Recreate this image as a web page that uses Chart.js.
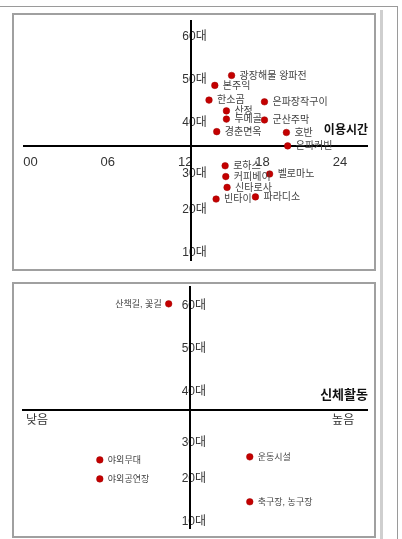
<!DOCTYPE html>
<html lang="ko">
<head>
<meta charset="utf-8">
<title>이용시간 · 신체활동</title>
<script src="https://cdn.jsdelivr.net/npm/chart.js@4.4.1/dist/chart.umd.min.js"></script>
<style>
    html, body { margin: 0; padding: 0; background: #fff; }
    body { width: 402px; height: 539px; position: relative; overflow: hidden; }
    .frame-top { position: absolute; left: 0; top: 6px; width: 398px; height: 1px; background: #9a9a9a; }
    .frame-right { position: absolute; left: 397px; top: 6px; width: 1px; height: 533px; background: #9a9a9a; }
    .frame-bar { position: absolute; left: 380px; top: 10px; width: 3px; height: 529px; background: #cfcfcf; }
    .panel { position: absolute; left: 12px; width: 364px; box-sizing: border-box; border: 2px solid #a0a0a0; }
    #panelTime { top: 13px; height: 258px; }
    #panelActivity { top: 282px; height: 256px; }
    canvas { position: absolute; left: 14px; z-index: 1; }
    #timeChart { top: 9px; }
    #activityChart { top: 275px; }
</style>
</head>
<body>
<div class="frame-top"></div>
<div class="frame-right"></div>
<div class="frame-bar"></div>
<div class="panel" id="panelTime"></div>
<div class="panel" id="panelActivity"></div>
<canvas id="timeChart" width="360" height="264"></canvas>
<canvas id="activityChart" width="360" height="265"></canvas>

<script>
// age axis (shared)
const ageTicks = [10, 20, 30, 40, 50, 60];
const ageLabels = ['10대', '20대', '30대', '40대', '50대', '60대'];

// top panel: time of use vs age
const hourTicks = [0, 6, 12, 18, 24];
const hourLabels = ['00', '06', '12', '18', '24'];
const timePlaces = ['광장해물 왕파전', '본주익', '한소곰', '은파장작구이', '산정', '두메골', '군산주막', '경춘면옥',
    '호반', '은파커빈', '로하스', '커피베이', '벨로마노', '신타로사', '빈타이', '파라디소'];
const timeHours = [15.6, 14.3, 13.85, 18.15, 15.2, 15.2, 18.15, 14.45, 19.85, 19.95, 15.1, 15.15, 18.55, 15.25, 14.4, 17.45];
const timeAges = [51.0, 48.7, 45.3, 44.9, 42.8, 40.9, 40.7, 38.0, 37.8, 34.7, 30.1, 27.6, 28.2, 25.1, 22.4, 22.9];

// bottom panel: physical activity vs age
const activityTicks = [0, 10];
const activityLabels = ['낮음', '높음'];
const activityPlaces = ['산책길, 꽃길', '야외무대', '야외공연장', '운동시설', '축구장, 농구장'];
const activityLevels = [4.3, 2.05, 2.05, 6.95, 6.95];
const activityAges = [60.4, 24.3, 19.9, 25.0, 14.6];

const FONT = '"Liberation Sans", "Noto Sans CJK KR", sans-serif';
Chart.defaults.font.family = FONT;
Chart.defaults.color = '#333';

// draws the place names next to the dots and the axis title
const pointLabels = {
    id: 'pointLabels',
    afterDatasetsDraw(chart, args, opts) {
        const { ctx, chartArea } = chart;
        const meta = chart.getDatasetMeta(0);
        const names = chart.data.labels;
        ctx.save();
        ctx.font = `${opts.size}px ${FONT}`;
        ctx.fillStyle = '#444';
        ctx.textBaseline = 'middle';
        meta.data.forEach((pt, i) => {
            const left = (opts.leftSide || []).includes(names[i]);
            ctx.textAlign = left ? 'right' : 'left';
            ctx.fillText(names[i], left ? pt.x - 7 : pt.x + 8, pt.y + 0.5);
        });
        // axis title, just above the horizontal axis on the right
        const axisY = chart.scales.y.getPixelForValue(chart.options.scales.x.position.y);
        ctx.font = `bold ${opts.titleSize}px ${FONT}`;
        ctx.fillStyle = '#111';
        ctx.textAlign = 'right';
        ctx.fillText(opts.title, chartArea.right + 1, axisY - 15);
        ctx.restore();
    }
};

function fixedTicks(values) {
    return scale => { scale.ticks = values.map(v => ({ value: v })); };
}

function makeChart(canvasId, cfg) {
    const noGrid = { display: true, drawOnChartArea: false, drawTicks: false };
    return new Chart(document.getElementById(canvasId), {
        type: 'scatter',
        data: {
            labels: cfg.names,
            datasets: [{
                data: cfg.xs.map((x, i) => ({ x: x, y: cfg.ys[i] })),
                backgroundColor: '#c40000',
                borderColor: '#a00000',
                borderWidth: 0.5,
                pointRadius: 3.3
            }]
        },
        options: {
            responsive: false,
            animation: false,
            layout: { padding: cfg.padding },
            plugins: {
                legend: { display: false },
                tooltip: { enabled: false },
                pointLabels: { size: cfg.labelSize, titleSize: cfg.titleSize, title: cfg.title, leftSide: cfg.leftSide }
            },
            scales: {
                x: {
                    type: 'linear',
                    min: cfg.xMin,
                    max: cfg.xMax,
                    position: { y: cfg.xAxisAt },
                    afterBuildTicks: fixedTicks(cfg.xTicks),
                    grid: noGrid,
                    border: { display: true, color: '#000', width: 2 },
                    ticks: {
                        padding: cfg.xPad,
                        maxRotation: 0,
                        autoSkip: false,
                        font: { size: cfg.xFont },
                        color: '#333',
                        callback: v => cfg.xLabels[cfg.xTicks.indexOf(v)]
                    }
                },
                // age labels: sit over the vertical axis line, so this scale is placed a bit right of it
                y: {
                    type: 'linear',
                    min: cfg.yMin,
                    max: cfg.yMax,
                    position: { x: cfg.yLabelsAt },
                    afterBuildTicks: fixedTicks(ageTicks),
                    grid: noGrid,
                    border: { display: false },
                    ticks: {
                        autoSkip: false,
                        font: { size: 12 },
                        color: '#333',
                        // the original sets 30대 a little lower, under the horizontal axis
                        callback: v => v === 30 ? ['', ageLabels[ageTicks.indexOf(v)]] : ageLabels[ageTicks.indexOf(v)]
                    }
                },
                // the vertical axis line itself
                yLine: {
                    type: 'linear',
                    axis: 'y',
                    min: cfg.yMin,
                    max: cfg.yMax,
                    position: { x: cfg.yAxisAt },
                    grid: noGrid,
                    border: { display: true, color: '#000', width: 2 },
                    ticks: { display: false }
                }
            }
        },
        plugins: [pointLabels]
    });
}

makeChart('timeChart', {
    names: timePlaces, xs: timeHours, ys: timeAges,
    xMin: -0.46, xMax: 26.1, xTicks: hourTicks, xLabels: hourLabels, xAxisAt: 34.69, xPad: 9, xFont: 13,
    yMin: 8.3, yMax: 63.6, yAxisAt: 12.43, yLabelsAt: 13.67,
    padding: { left: 9, right: 7, top: 12, bottom: 13 },
    labelSize: 10, titleSize: 12, title: '이용시간'
});

makeChart('activityChart', {
    names: activityPlaces, xs: activityLevels, ys: activityAges,
    xMin: -0.46, xMax: 10.78, xTicks: activityTicks, xLabels: activityLabels, xAxisAt: 35.85, xPad: 4, xFont: 12,
    yMin: 8.54, yMax: 64.3, yAxisAt: 5.0, yLabelsAt: 5.52,
    padding: { left: 9, right: 7, top: 12, bottom: 12 },
    labelSize: 9, titleSize: 13, title: '신체활동', leftSide: ['산책길, 꽃길']
});
</script>
</body>
</html>
